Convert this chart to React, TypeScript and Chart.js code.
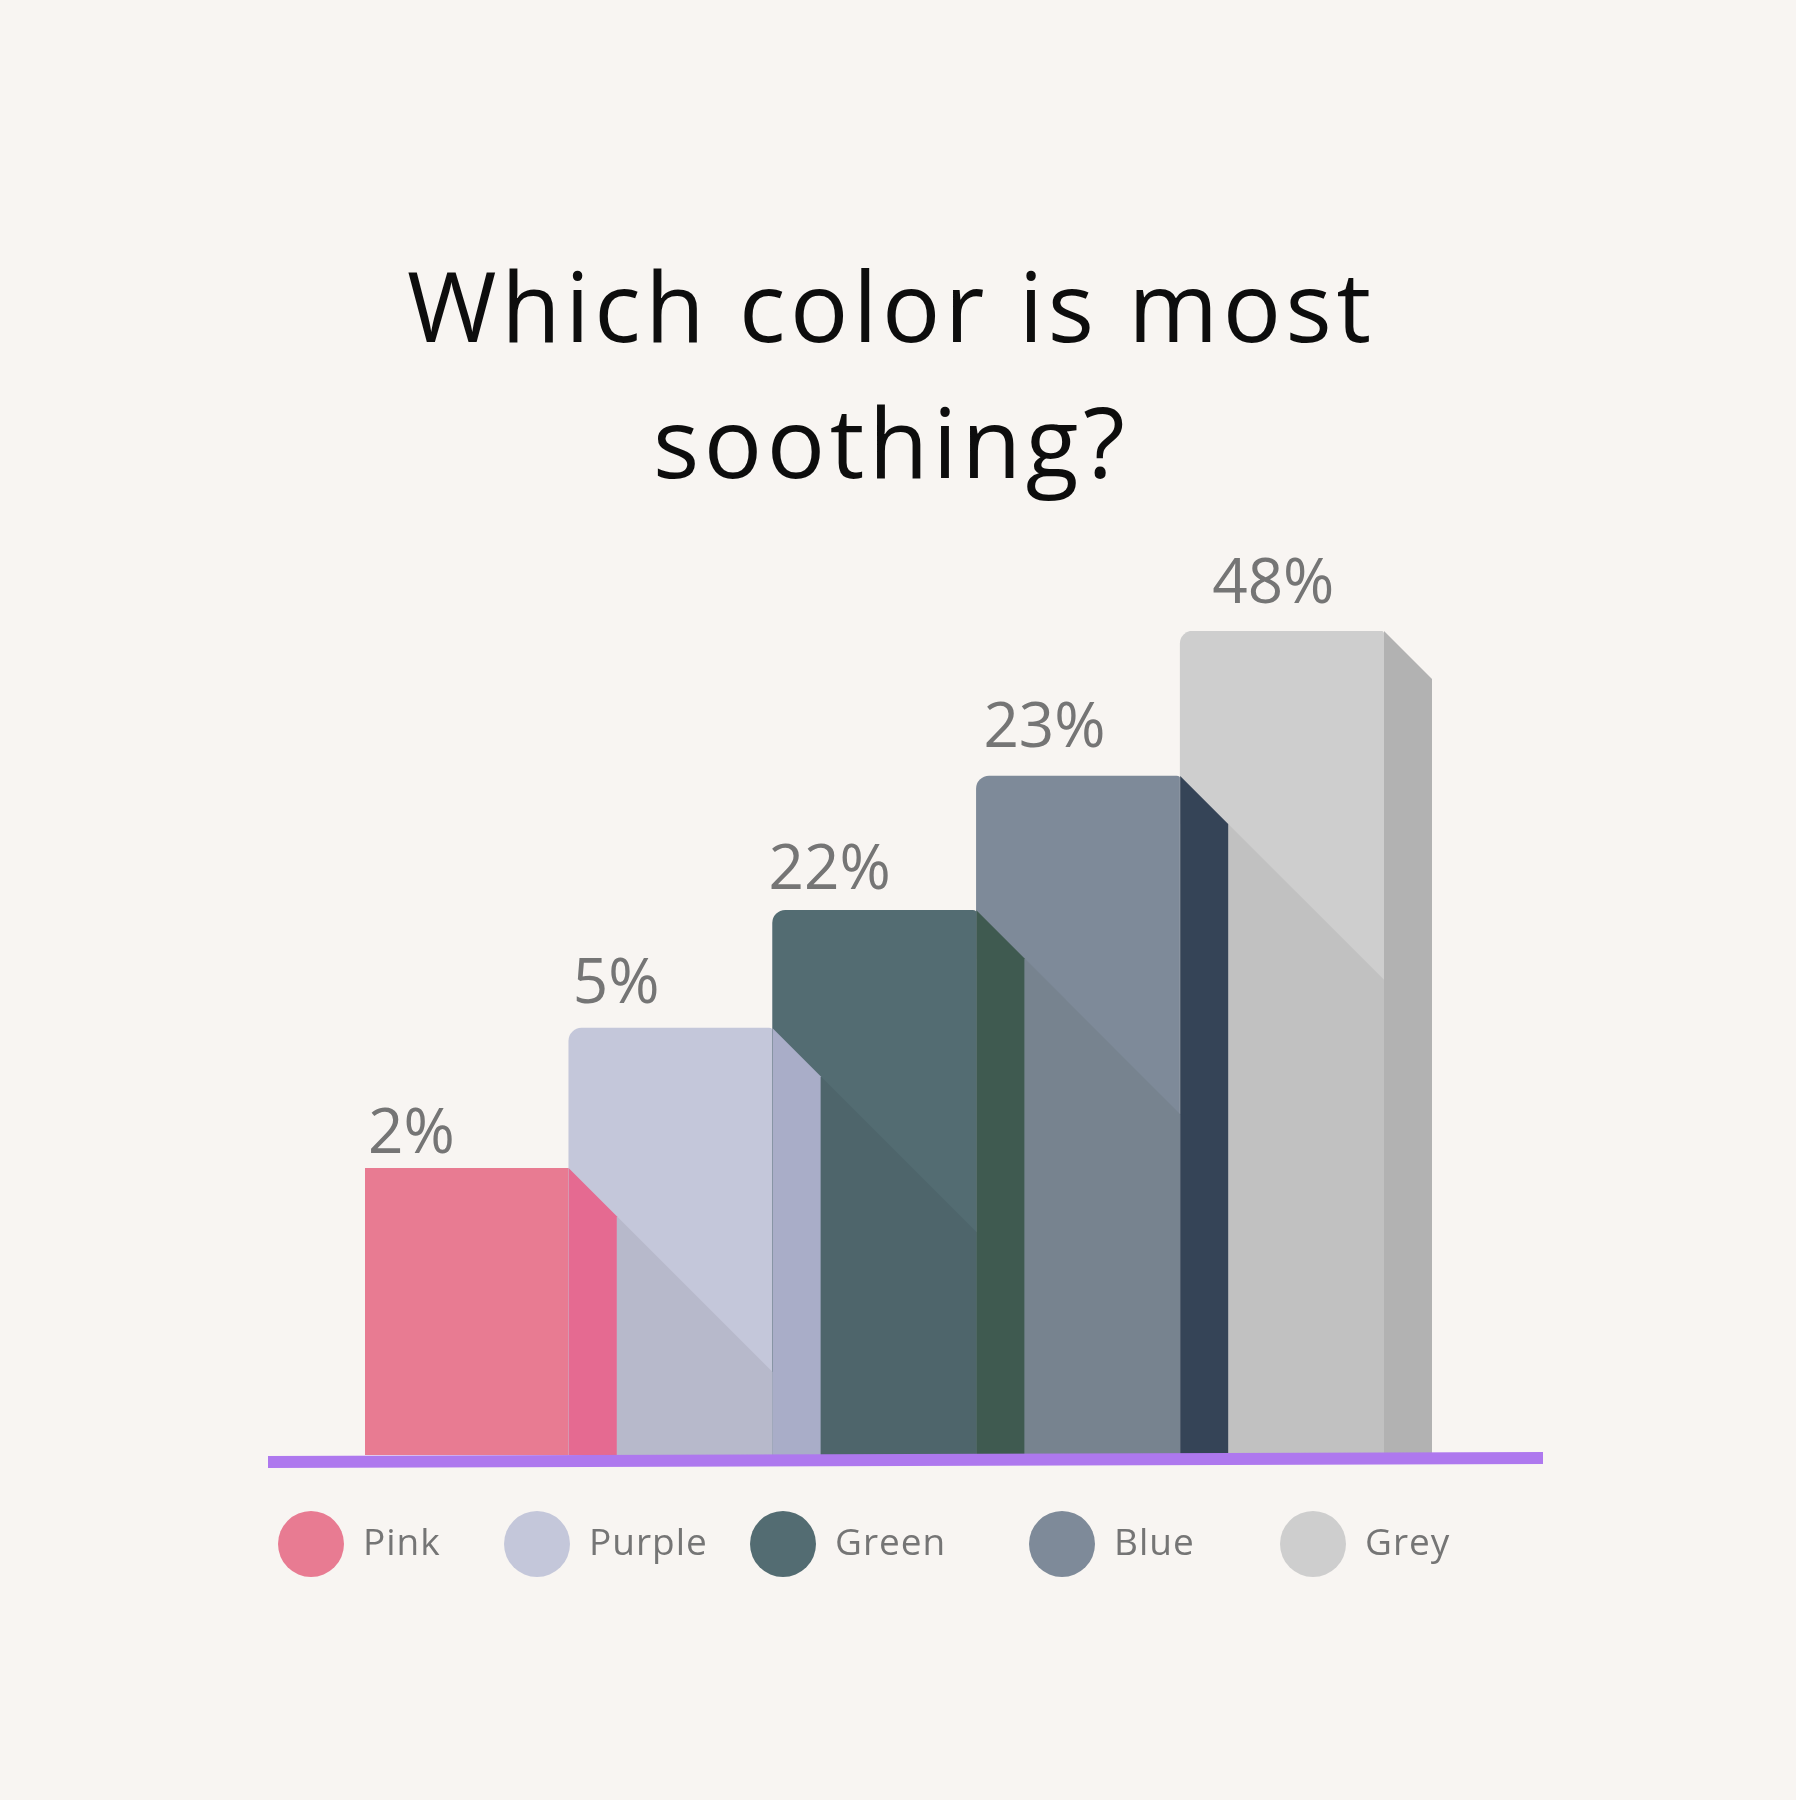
import React, { useEffect, useRef } from "react";
import { Chart, registerables } from "chart.js";

Chart.register(...registerables);

// ---- data ----
const titleLines = ["Which color is most", "soothing?"];
const categories = ["Pink", "Purple", "Green", "Blue", "Grey"];
const percentValues = [2, 5, 22, 23, 48];
// visual bar heights as drawn in the infographic (tallest = 100)
const barLevels = [34.8, 51.8, 66.1, 82.4, 100];

// ---- styles ----
const BG = "#F8F5F2";
const frontColors = ["#E87B92", "#C4C7DA", "#536C72", "#7E8A99", "#CECECE"];
const shadowColors = ["#E87B92", "#B7B9CB", "#4E656B", "#77838F", "#C1C1C1"];
const sideColors = ["#E56A91", "#A9ADC8", "#3F5A50", "#354457", "#B2B2B2"];
const legendColors = ["#E87B92", "#C4C7DA", "#536C72", "#7E8A99", "#CECECE"];
const labelDx = [3, 4, -4, 7, 32];
const labelGap = [15, 25, 21, 29, 28];
const legendCenters = [311, 537, 783, 1062, 1313];
const TEXT_GREY = "#757575";
const DEPTH = 48;

function setSpacing(ctx: any, v: string) {
  try {
    ctx.letterSpacing = v;
  } catch (e) {}
}

const decoPlugin = {
  id: "deco",
  beforeDraw(chart: any) {
    const ctx = chart.ctx;
    ctx.save();
    ctx.fillStyle = BG;
    ctx.fillRect(0, 0, chart.width, chart.height);
    // title
    ctx.fillStyle = "#0d0d0d";
    ctx.textAlign = "center";
    ctx.textBaseline = "alphabetic";
    ctx.font = '400 97px "Open Sans"';
    const target = 964;
    const w0 = ctx.measureText(titleLines[0]).width;
    const spacing = Math.max(0, (target - w0) / (titleLines[0].length - 1));
    setSpacing(ctx, spacing.toFixed(2) + "px");
    const cx = 889 + spacing / 2;
    ctx.fillText(titleLines[0], cx, 342);
    ctx.fillText(titleLines[1], cx, 478);
    setSpacing(ctx, "0px");
    ctx.restore();
  },
  afterDatasetsDraw(chart: any) {
    const ctx = chart.ctx;
    const meta = chart.getDatasetMeta(0);
    const base = chart.scales.y.getPixelForValue(0);
    const bars = meta.data.map((el: any) => {
      const p = el.getProps(["x", "y", "width"], true);
      return { l: p.x - p.width / 2, r: p.x + p.width / 2, top: p.y };
    });
    ctx.save();
    // shadows cast by previous bar's side onto the front
    for (let i = 1; i < bars.length; i++) {
      const prev = bars[i - 1];
      const cur = bars[i];
      const sx = prev.r + DEPTH;
      const sy = prev.top + DEPTH;
      const ey = Math.min(base, sy + (cur.r - sx));
      ctx.beginPath();
      ctx.moveTo(sx, sy);
      ctx.lineTo(cur.r, ey);
      ctx.lineTo(cur.r, base);
      ctx.lineTo(sx, base);
      ctx.closePath();
      ctx.fillStyle = shadowColors[i];
      ctx.fill();
    }
    // side faces
    for (let i = 0; i < bars.length; i++) {
      const b = bars[i];
      ctx.beginPath();
      ctx.moveTo(b.r, b.top);
      ctx.lineTo(b.r + DEPTH, b.top + DEPTH);
      ctx.lineTo(b.r + DEPTH, base);
      ctx.lineTo(b.r, base);
      ctx.closePath();
      ctx.fillStyle = sideColors[i];
      ctx.fill();
    }
    // value labels
    ctx.fillStyle = TEXT_GREY;
    ctx.font = '400 62px "Open Sans"';
    ctx.textAlign = "left";
    ctx.textBaseline = "alphabetic";
    bars.forEach((b: any, i: number) => {
      ctx.fillText(percentValues[i] + "%", b.l + labelDx[i], b.top - labelGap[i]);
    });
    // baseline
    const ca = chart.chartArea;
    const x0 = ca.left - 97;
    const x1 = ca.right + 159;
    ctx.beginPath();
    ctx.moveTo(x0, base + 1);
    ctx.lineTo(x1, base - 3);
    ctx.lineTo(x1, base + 9);
    ctx.lineTo(x0, base + 13);
    ctx.closePath();
    ctx.fillStyle = "#AE78EE";
    ctx.fill();
    // legend
    ctx.font = '400 37px "Open Sans"';
    ctx.textBaseline = "middle";
    setSpacing(ctx, "1px");
    categories.forEach((c, i) => {
      const cx = legendCenters[i];
      const cy = 1544;
      ctx.beginPath();
      ctx.arc(cx, cy, 33, 0, Math.PI * 2);
      ctx.fillStyle = legendColors[i];
      ctx.fill();
      ctx.fillStyle = TEXT_GREY;
      ctx.fillText(c, cx + 52, cy);
    });
    setSpacing(ctx, "0px");
    ctx.restore();
  },
};

export default function App() {
  const ref = useRef<HTMLCanvasElement | null>(null);
  useEffect(() => {
    document.body.style.margin = "0";
    document.body.style.background = BG;
    if (!ref.current) return;
    const chart = new Chart(ref.current, {
      type: "bar",
      data: {
        labels: categories,
        datasets: [
          {
            data: barLevels,
            backgroundColor: frontColors,
            borderWidth: 0,
            barPercentage: 1,
            categoryPercentage: 1,
            borderSkipped: "bottom",
            borderRadius: (c: any) =>
              c.dataIndex === 0
                ? 0
                : { topLeft: 13, topRight: 4, bottomLeft: 0, bottomRight: 0 },
          },
        ],
      },
      options: {
        responsive: false,
        animation: false,
        devicePixelRatio: 1,
        layout: { padding: { left: 365, right: 412, top: 631, bottom: 345 } },
        plugins: {
          legend: { display: false },
          title: { display: false },
          tooltip: { enabled: false },
        },
        scales: {
          x: { display: false },
          y: { display: false, min: 0, max: 100 },
        },
      },
      plugins: [decoPlugin],
    } as any);
    return () => chart.destroy();
  }, []);
  return (
    <canvas
      ref={ref}
      width={1796}
      height={1800}
      style={{ display: "block", width: "1796px", height: "1800px" }}
    />
  );
}
